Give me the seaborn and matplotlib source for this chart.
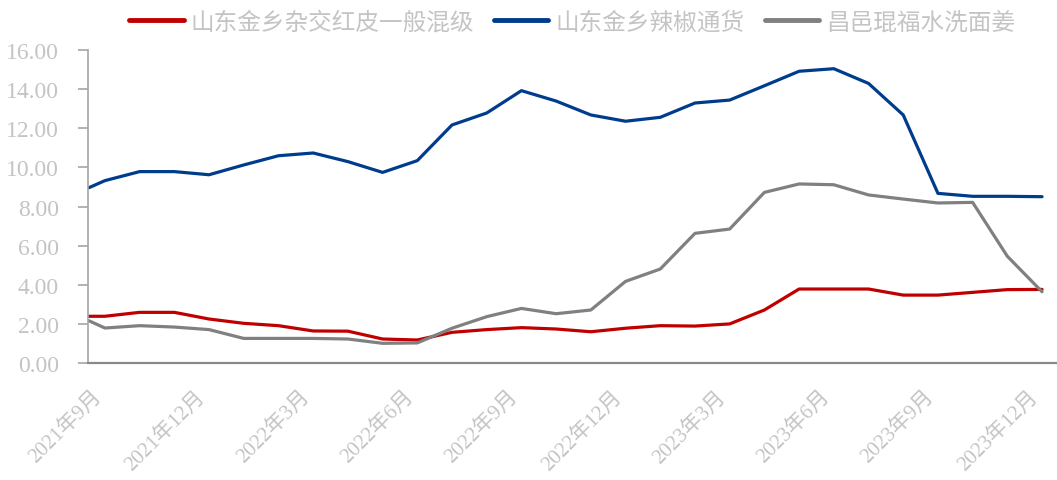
import matplotlib
matplotlib.use("Agg")
import matplotlib.pyplot as plt
import seaborn as sns
import pandas as pd

# x positions in months from 2021-09 (first point sits about half a month earlier)
months = [-0.46] + list(range(0, 28))
series_names = ["山东金乡杂交红皮一般混级", "山东金乡辣椒通货", "昌邑琨福水洗面姜"]
red_vals = [2.40, 2.40, 2.60, 2.60, 2.26, 2.04, 1.92, 1.65, 1.64, 1.24, 1.19, 1.58, 1.72, 1.82,
            1.75, 1.61, 1.79, 1.92, 1.90, 2.01, 2.72, 3.79, 3.79, 3.79, 3.48, 3.48, 3.62, 3.76, 3.77]
blue_vals = [8.96, 9.32, 9.78, 9.78, 9.62, 10.12, 10.59, 10.73, 10.29, 9.74, 10.34, 12.16, 12.77, 13.91,
             13.38, 12.67, 12.35, 12.55, 13.28, 13.43, 14.16, 14.90, 15.03, 14.28, 12.67, 8.67, 8.52, 8.52, 8.50]
gray_vals = [2.17, 1.80, 1.92, 1.85, 1.72, 1.27, 1.27, 1.27, 1.24, 1.02, 1.04, 1.79, 2.38, 2.80,
             2.53, 2.72, 4.18, 4.81, 6.63, 6.85, 8.72, 9.15, 9.11, 8.59, 8.38, 8.18, 8.21, 5.46, 3.65]
tick_months = [0, 3, 6, 9, 12, 15, 18, 21, 24, 27]
tick_labels = ["2021年9月", "2021年12月", "2022年3月", "2022年6月", "2022年9月",
               "2022年12月", "2023年3月", "2023年6月", "2023年9月", "2023年12月"]
y_ticks = [0, 2, 4, 6, 8, 10, 12, 14, 16]

colors = ["#C00000", "#003C8C", "#808080"]

df = pd.concat([
    pd.DataFrame({"x": months, "value": vals, "series": name})
    for name, vals in zip(series_names, [red_vals, blue_vals, gray_vals])
], ignore_index=True)

sns.set_style("white")
plt.rcParams["font.family"] = ["Liberation Serif", "Noto Sans CJK SC", "DejaVu Sans"]

fig = plt.figure(figsize=(10.57, 4.81), dpi=100)
ax = fig.add_axes([0.0835, 0.2426, 0.9155, 0.652])

sns.lineplot(data=df, x="x", y="value", hue="series", hue_order=series_names,
             palette=colors, linewidth=2.3, ax=ax, sort=False)

ax.set_xlim(-0.48, 27.4)
ax.set_ylim(0, 16)
ax.set_yticks(y_ticks)
ax.set_yticklabels([f"{v:.2f}" for v in y_ticks])
ax.set_xticks(tick_months)
ax.set_xticklabels(tick_labels, rotation=45, ha="right", va="top")
ax.set_xlabel("")
ax.set_ylabel("")

label_color = "#C4C4C4"
ax.tick_params(axis="y", which="both", left=True, length=7, width=1.2, color="#A6A6A6",
               labelsize=17, labelcolor=label_color, pad=14)
ax.tick_params(axis="x", which="both", bottom=False, labelsize=15, labelcolor=label_color, pad=13)
for t in ax.get_xticklabels():
    t.set_fontweight("light")

for s in ["top", "right"]:
    ax.spines[s].set_visible(False)
ax.spines["left"].set_color("#A6A6A6")
ax.spines["left"].set_linewidth(1.2)
ax.spines["bottom"].set_color("#898989")
ax.spines["bottom"].set_linewidth(1.6)

handles, labels = ax.get_legend_handles_labels()
leg = ax.legend(handles, labels, loc="center", bbox_to_anchor=(0.5, 1.088), ncol=3, frameon=False,
                fontsize=17, handlelength=2.3, handletextpad=0.3, columnspacing=0.85,
                borderaxespad=0)
for t in leg.get_texts():
    t.set_color(label_color)
    t.set_fontweight("light")
for line in leg.get_lines():
    line.set_linewidth(3.5)

fig.savefig("out.png", dpi=100)
